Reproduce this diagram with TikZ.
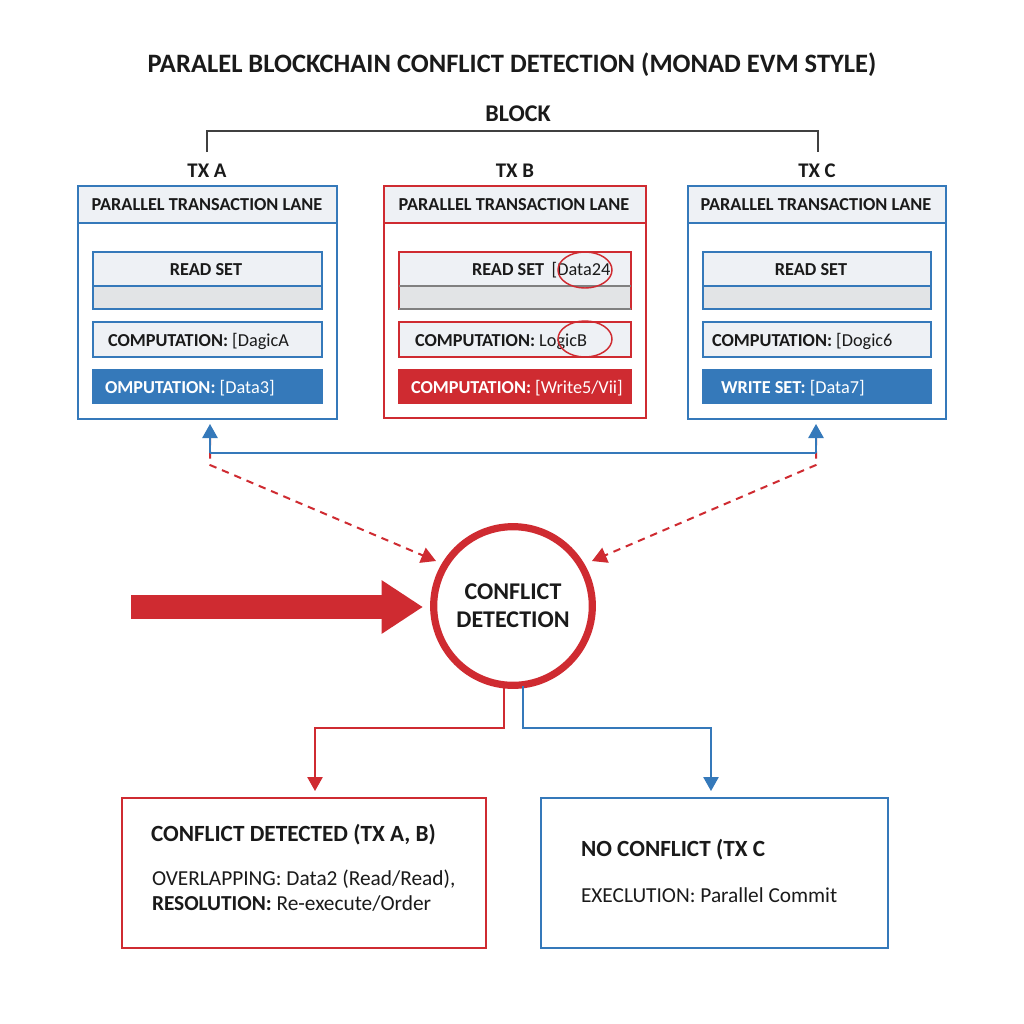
\documentclass[tikz,border=0pt]{standalone}
\usepackage{fontspec}
\setmainfont{Carlito}
\usetikzlibrary{arrows.meta,shapes.geometric}
\definecolor{bl}{HTML}{3579BA}
\definecolor{rd}{HTML}{CF2B31}
\definecolor{hd}{HTML}{EEF1F5}
\definecolor{gr}{HTML}{E2E4E6}
\definecolor{ink}{HTML}{1A1A1A}
\newcommand{\rbox}[6][]{%
  \pgfmathsetmacro\rw{(#5-#3)*0.75}\pgfmathsetmacro\rh{(#6-#4)*0.75}%
  \node[rectbox,#1,minimum width=\rw pt,minimum height=\rh pt] (#2) at ({(#3+#5)/2},{(#4+#6)/2}) {};}
\newcommand{\lanefont}{\fontsize{13.7pt}{16pt}\selectfont}
\tikzset{
  rectbox/.style={draw,rectangle,inner sep=0pt,outer sep=0pt,line width=1.1pt},
  lbl/.style={inner sep=0pt,outer sep=0pt,text=ink,font=\lanefont,anchor=mid,yshift=-2.4pt},
  lblw/.style={lbl,anchor=mid west},
  wht/.style={lblw,text=white},
  mark ring/.style={draw=rd,ellipse,line width=1.1pt,inner sep=0pt,minimum width=40.5pt,minimum height=27pt},
  head/.style={-{Triangle[length=10.5pt,width=11.5pt]}},
  link/.style={line width=1.2pt},
  dash link/.style={line width=1.5pt,dash pattern=on 5.5pt off 4.5pt,line join=round,-{Triangle[length=11pt,width=12pt]}}
}
\begin{document}
\begin{tikzpicture}[x=0.75pt,y=-0.75pt]
\useasboundingbox[fill=white] (0,0) rectangle (1024,1024);
% title
\node[lbl,font=\bfseries\fontsize{19.9pt}{23pt}\selectfont] (title) at (512,66) {PARALEL BLOCKCHAIN CONFLICT DETECTION (MONAD EVM STYLE)};
\node[lbl,font=\bfseries\fontsize{18pt}{21pt}\selectfont] (block) at (518,115) {BLOCK};
\node[lbl,font=\bfseries\fontsize{15.6pt}{18pt}\selectfont] (txa) at (207,171) {TX A};
\node[lbl,font=\bfseries\fontsize{15.6pt}{18pt}\selectfont] (txb) at (515,171) {TX B};
\node[lbl,font=\bfseries\fontsize{15.6pt}{18pt}\selectfont] (txc) at (817,171) {TX C};
\coordinate (ba) at (207,152);
\coordinate (bc) at (818,152);
\coordinate (bb) at (207,131);
\draw[link,draw=black!75] (ba) -- (bb) -- (bb -| bc) -- (bc);
% lane A
\rbox[draw=bl,fill=white]{laneA}{78}{186}{337}{419}
\rbox[draw=bl,fill=hd]{headA}{78}{186}{337}{223}
\rbox[draw=bl,fill=hd]{readA}{93}{252}{322}{286}
\rbox[draw=bl,fill=gr]{slotA}{93}{286}{322}{309}
\rbox[draw=bl,fill=hd]{compA}{93}{322}{322}{357}
\rbox[draw=bl,fill=bl]{writeA}{93}{370}{322}{403}
\node[lbl,font=\bfseries\lanefont] (headAt) at (207,204) {PARALLEL TRANSACTION LANE};
\node[lbl,font=\bfseries\lanefont] (readAt) at (206,269) {READ SET};
\node[lblw] (compAt) at (108,340) {\textbf{COMPUTATION:} [DagicA};
\node[wht] (writeAt) at (105,387) {\textbf{OMPUTATION:} [Data3]};
% lane B
\rbox[draw=rd,fill=white]{laneB}{384}{186}{646}{418}
\rbox[draw=rd,fill=hd]{headB}{384}{186}{646}{223}
\rbox[draw=rd,fill=hd]{readB}{399}{252}{631}{286}
\rbox[draw=rd,fill=gr]{slotB}{399}{286}{631}{309}
\rbox[draw=rd,fill=hd]{compB}{399}{322}{631}{357}
\rbox[draw=rd,fill=rd]{writeB}{399}{370}{631}{403}
\draw[link,draw=black!50] (slotB.north west) -- (slotB.north east);
\draw[link,draw=black!50] (slotB.south west) -- (slotB.south east);
\node[lbl,font=\bfseries\lanefont] (headBt) at (514,204) {PARALLEL TRANSACTION LANE};
\node[lblw] (readBt) at (472,269) {\textbf{READ SET}\hspace{2.5pt} [Data24};
\node[lblw] (compBt) at (415,340) {\textbf{COMPUTATION:} LogicB};
\node[wht] (writeBt) at (411,387) {\textbf{COMPUTATION:} [Write5/Vii]};
\node[mark ring] (ringR) at (585,270) {};
\node[mark ring] (ringC) at (585,339) {};
% lane C
\rbox[draw=bl,fill=white]{laneC}{688}{186}{946}{419}
\rbox[draw=bl,fill=hd]{headC}{688}{186}{946}{223}
\rbox[draw=bl,fill=hd]{readC}{703}{252}{931}{286}
\rbox[draw=bl,fill=gr]{slotC}{703}{286}{931}{309}
\rbox[draw=bl,fill=hd]{compC}{703}{322}{931}{357}
\rbox[draw=bl,fill=bl]{writeC}{703}{370}{931}{403}
\node[lbl,font=\bfseries\lanefont] (headCt) at (816,204) {PARALLEL TRANSACTION LANE};
\node[lbl,font=\bfseries\lanefont] (readCt) at (811,269) {READ SET};
\node[lblw] (compCt) at (712,340) {\textbf{COMPUTATION:} [Dogic6};
\node[wht] (writeCt) at (721,387) {\textbf{WRITE SET:} [Data7]};
% conflict detection
\node[circle,draw=rd,fill=white,line width=5.4pt,minimum size=119pt,inner sep=0pt,outer sep=0pt,align=center,text=ink,font=\bfseries\fontsize{18pt}{21pt}\selectfont] (cd) at (513,606) {CONFLICT\\DETECTION};
% link coordinates
\coordinate (tipA) at (210,424);
\coordinate (tipC) at (816,424);
\coordinate (busA) at (210,453);
\coordinate (busC) at (816,453);
\coordinate (dashA) at (210,438);
\coordinate (dashC) at (816,438);
\coordinate (kneeA) at (210,465);
\coordinate (kneeC) at (816,465);
\coordinate (cdL) at (436,561);
\coordinate (cdR) at (592,561);
% dashed links
\draw[dash link,draw=rd] (dashA) -- (kneeA) -- (cdL);
\draw[dash link,draw=rd] (dashC) -- (kneeC) -- (cdR);
% blue bus
\draw[link,draw=bl] (busA) -- (busC);
\draw[link,draw=bl,head] (busA) -- (tipA);
\draw[link,draw=bl,head] (busC) -- (tipC);
% big arrow
\coordinate (bigS) at (131,607);
\coordinate (bigE) at (423,607);
\draw[draw=rd,line width=18pt,-{Triangle[length=31pt,width=38pt]}] (bigS) -- (bigE);
% result boxes
\rbox[draw=rd,fill=white]{conf}{122}{798}{486}{948}
\rbox[draw=bl,fill=white]{noconf}{541}{798}{888}{948}
\node[lblw,font=\bfseries\fontsize{17.4pt}{20pt}\selectfont] (confT) at (151,835) {CONFLICT DETECTED (TX A, B)};
\node[lblw,font=\fontsize{16pt}{19pt}\selectfont] (confA) at (152,879) {OVERLAPPING: Data2 (Read/Read),};
\node[lblw,font=\fontsize{16pt}{19pt}\selectfont] (confB) at (152,904) {\textbf{RESOLUTION:} Re-execute/Order};
\node[lblw,font=\bfseries\fontsize{17.4pt}{20pt}\selectfont] (noT) at (581,850) {NO CONFLICT (TX C};
\node[lblw,font=\fontsize{16pt}{19pt}\selectfont] (noA) at (581,896) {EXECLUTION: Parallel Commit};
% decision links
\coordinate (outR) at (504,686);
\coordinate (outB) at (523,686);
\coordinate (elbR) at (504,728);
\coordinate (elbB) at (523,728);
\coordinate (inR) at (315,791);
\coordinate (inB) at (711,791);
\draw[link,draw=rd,head] (outR) -- (elbR) -- (elbR -| inR) -- (inR);
\draw[link,draw=bl,head] (outB) -- (elbB) -- (elbB -| inB) -- (inB);
\end{tikzpicture}
\end{document}
